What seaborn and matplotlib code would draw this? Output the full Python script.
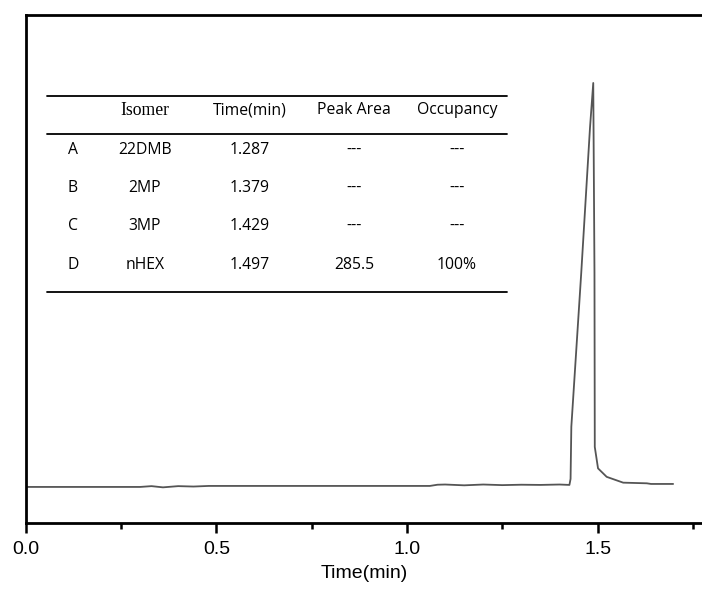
import numpy as np
import pandas as pd
import matplotlib
matplotlib.use('Agg')
import matplotlib.pyplot as plt
from matplotlib.lines import Line2D
import seaborn as sns

# --- chromatogram trace (time in min, detector signal in arbitrary units) ---
time_min = [0.000, 0.100, 0.200, 0.300, 0.330, 0.360, 0.400, 0.440, 0.480, 0.600,
            0.800, 1.000, 1.060, 1.080, 1.100, 1.150, 1.200, 1.250, 1.300, 1.350,
            1.400, 1.426, 1.429, 1.431, 1.457, 1.480, 1.4885, 1.4917, 1.4925,
            1.501, 1.5237, 1.567, 1.629, 1.640, 1.698]
signal = [0.00, 0.00, 0.00, 0.00, 0.20, -0.10, 0.20, 0.10, 0.25, 0.25,
          0.25, 0.25, 0.25, 0.55, 0.60, 0.40, 0.60, 0.45, 0.55, 0.50,
          0.60, 0.50, 2.0, 14.9, 53.0, 89.0, 100.0, 53.0, 9.9,
          4.6, 2.5, 1.06, 0.90, 0.74, 0.74]

# --- table data ---
table_header = ['', 'Isomer', 'Time(min)', 'Peak Area', 'Occupancy']
peak_ids = ['A', 'B', 'C', 'D']
isomers = ['22DMB', '2MP', '3MP', 'nHEX']
ret_times = ['1.287', '1.379', '1.429', '1.497']
peak_areas = ['---', '---', '---', '285.5']
occupancy = ['---', '---', '---', '100%']

W, H = 702, 603
df = pd.DataFrame({'Time(min)': time_min, 'Signal': signal})

sns.set_style('ticks')
plt.rcParams['text.color'] = 'black'
plt.rcParams['axes.labelcolor'] = 'black'

fig = plt.figure(figsize=(W / 100, H / 100), dpi=100)
ax = fig.add_axes([25.7 / W, 1 - 523.3 / H, 1 - 25.7 / W, (523.3 - 14.7) / H])

sns.lineplot(data=df, x='Time(min)', y='Signal', ax=ax, color='#555555',
             linewidth=1.3, sort=False)

ax.set_xlim(0, 1.7737)
ax.set_ylim(-9.0, 116.9)
ax.set_xticks([0.0, 0.5, 1.0, 1.5])
ax.set_xticks([0.25, 0.75, 1.25, 1.75], minor=True)
ax.set_xticklabels(['0.0', '0.5', '1.0', '1.5'], family='Liberation Sans', fontsize=14)
ax.set_yticks([])
ax.set_ylabel('')
ax.set_xlabel('Time(min)', family='Liberation Sans', fontsize=14, labelpad=5,
              color='black')
ax.tick_params(axis='x', which='major', direction='out', length=7.5, width=1.8,
               pad=5, colors='black')
ax.tick_params(axis='x', which='minor', direction='out', length=4.5, width=1.8,
               colors='black')

for side in ['left', 'top', 'bottom']:
    ax.spines[side].set_linewidth(2.0)
    ax.spines[side].set_color('black')
ax.spines['right'].set_visible(False)


# --- the inset table (pixel positions converted to figure fraction) ---
def fx(px):
    return px / W


def fy(py):
    return 1 - py / H


col_x = [73, 145, 250, 354, 457]
row_y = [150, 188, 226, 265]
body_font = dict(family='Open Sans', fontsize=11.3, ha='center', va='center',
                 color='black')

for i, label in enumerate(table_header):
    if label == 'Isomer':
        fig.text(fx(col_x[i]), fy(110), label, family='Liberation Serif',
                 fontsize=12.7, ha='center', va='center', color='black')
    elif label:
        fig.text(fx(col_x[i]), fy(110), label, **body_font)

for j in range(len(peak_ids)):
    row = [peak_ids[j], isomers[j], ret_times[j], peak_areas[j], occupancy[j]]
    for i, val in enumerate(row):
        fig.text(fx(col_x[i]), fy(row_y[j]), val, **body_font)

for ly in [96, 134, 292]:
    fig.add_artist(Line2D([fx(47), fx(507)], [fy(ly), fy(ly)], color='black',
                          linewidth=1.3, transform=fig.transFigure))

fig.savefig('out.png', dpi=100)
plt.close(fig)
